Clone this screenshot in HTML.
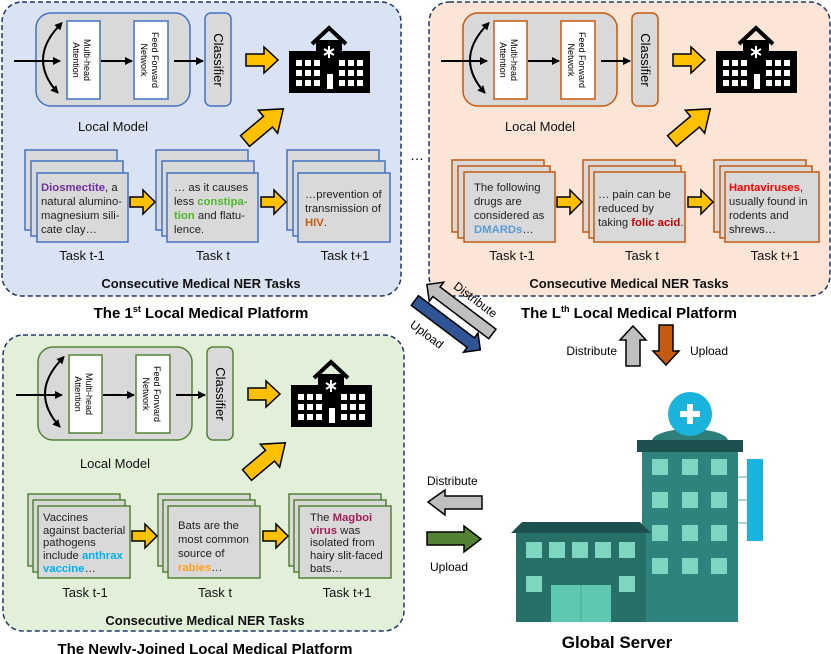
<!DOCTYPE html>
<html><head><meta charset="utf-8"><style>
html,body{margin:0;padding:0;background:#fff}
svg{display:block;font-family:"Liberation Sans",Arial,sans-serif}
.t{font-size:11.3px;fill:#222}
.lbl{font-size:13px;fill:#111}
.b{font-weight:bold}
</style></head><body>
<svg width="831" height="654" viewBox="0 0 831 654" xmlns="http://www.w3.org/2000/svg">
<defs>
<marker id="ah" markerWidth="8" markerHeight="8" refX="7" refY="4" orient="auto" markerUnits="userSpaceOnUse"><path d="M0,0 L8,4 L0,8 Z" fill="#000"/></marker>
<marker id="ahs" markerWidth="8" markerHeight="8" refX="1" refY="4" orient="auto-start-reverse" markerUnits="userSpaceOnUse"><path d="M0,0 L8,4 L0,8 Z" fill="#000"/></marker>
<g id="hosp">
<path d="M312,44 L329,28 L346,44" fill="none" stroke="#000" stroke-width="4"/>
<rect x="316" y="40" width="26" height="14" fill="#000"/>
<rect x="289" y="51" width="81" height="42" fill="#000"/>
<g fill="#fff">
<rect x="296" y="60" width="6" height="6"/><rect x="305" y="60" width="6" height="6"/><rect x="314" y="60" width="6" height="6"/>
<rect x="296" y="70" width="6" height="6"/><rect x="305" y="70" width="6" height="6"/><rect x="314" y="70" width="6" height="6"/>
<rect x="296" y="80" width="6" height="6"/><rect x="305" y="80" width="6" height="6"/><rect x="314" y="80" width="6" height="6"/>
<rect x="339" y="60" width="6" height="6"/><rect x="348" y="60" width="6" height="6"/><rect x="357" y="60" width="6" height="6"/>
<rect x="339" y="70" width="6" height="6"/><rect x="348" y="70" width="6" height="6"/><rect x="357" y="70" width="6" height="6"/>
<rect x="339" y="80" width="6" height="6"/><rect x="348" y="80" width="6" height="6"/><rect x="357" y="80" width="6" height="6"/>
<rect x="327" y="74" width="6" height="15"/>
</g>
<path d="M329,46 V58 M324,49 L334,55 M334,49 L324,55" stroke="#fff" stroke-width="2"/>
</g>
<path id="ya" d="M0,-6 L18,-6 L18,-13 L32,0 L18,13 L18,6 L0,6 Z" fill="#ffc000" stroke="#000" stroke-width="1.5"/>
<path id="yd" d="M0,-7 L30,-7 L30,-15 L50,0 L30,15 L30,7 L0,7 Z" fill="#ffc000" stroke="#000" stroke-width="1.5"/>
<path id="ys" d="M0,-5 L13,-5 L13,-12 L25,0 L13,12 L13,5 L0,5 Z" fill="#ffc000" stroke="#000" stroke-width="1.5"/>
<g id="arrs">
<line x1="14" y1="61" x2="60" y2="61" stroke="#000" stroke-width="2" marker-end="url(#ah)"/>
<path d="M58,27 Q28,60 58,93" fill="none" stroke="#000" stroke-width="2" marker-end="url(#ah)" marker-start="url(#ahs)"/>
<line x1="101" y1="61" x2="132" y2="61" stroke="#000" stroke-width="2" marker-end="url(#ah)"/>
<line x1="174" y1="61" x2="203" y2="61" stroke="#000" stroke-width="2" marker-end="url(#ah)"/>
<use href="#ya" transform="translate(246,60)"/>
<use href="#yd" transform="translate(245,141) rotate(-40)"/>
<use href="#ys" transform="translate(130,202)"/>
<use href="#ys" transform="translate(261,202)"/>
<use href="#hosp"/>
</g>
</defs>

<!-- PANEL 1 -->
<g>
<rect x="2" y="2" width="399" height="294" rx="20" fill="#dae3f3" stroke="#203864" stroke-width="1.5" stroke-dasharray="5,3"/>
<g stroke="#4472c4" stroke-width="1.5">
<rect x="36" y="13" width="154" height="93" rx="15" fill="#d9d9d9"/>
<rect x="67" y="21" width="33" height="78" fill="#fff"/>
<rect x="134" y="21" width="34" height="78" fill="#fff"/>
<rect x="205" y="13" width="26" height="93" rx="6" fill="#d9d9d9"/>
<rect x="25" y="150" width="92" height="80" fill="#d9d9d9"/><rect x="31" y="161" width="92" height="75" fill="#d9d9d9"/><rect x="37" y="173" width="91" height="69" fill="#d9d9d9"/>
<rect x="156" y="150" width="92" height="80" fill="#d9d9d9"/><rect x="162" y="161" width="92" height="75" fill="#d9d9d9"/><rect x="167" y="173" width="91" height="69" fill="#d9d9d9"/>
<rect x="287" y="150" width="92" height="80" fill="#d9d9d9"/><rect x="293" y="161" width="92" height="75" fill="#d9d9d9"/><rect x="298" y="173" width="92" height="69" fill="#d9d9d9"/>
</g>
<use href="#arrs"/>
<g font-size="9" text-anchor="middle" fill="#000">
<text transform="rotate(90 83 60)" x="83" y="59">Multi-head</text><text transform="rotate(90 83 60)" x="83" y="70">Attention</text>
<text transform="rotate(90 151 60)" x="151" y="59">Feed Forward</text><text transform="rotate(90 151 60)" x="151" y="70">Network</text>
<text transform="rotate(90 218 60)" x="218" y="64" font-size="13">Classifier</text>
</g>
<text class="lbl" x="113" y="131" text-anchor="middle">Local Model</text>
<text class="t"><tspan x="41" y="191"><tspan fill="#7030a0" class="b">Diosmectite</tspan>, a</tspan><tspan x="41" y="205">natural alumino-</tspan><tspan x="41" y="219">magnesium sili-</tspan><tspan x="41" y="233">cate clay…</tspan></text>
<text class="t"><tspan x="174" y="191">… as it causes</tspan><tspan x="174" y="205">less <tspan fill="#4eb82e" class="b">constipa-</tspan></tspan><tspan x="174" y="219"><tspan fill="#4eb82e" class="b">tion</tspan> and flatu-</tspan><tspan x="174" y="233">lence.</tspan></text>
<text class="t"><tspan x="305" y="198">…prevention of</tspan><tspan x="305" y="212">transmission of</tspan><tspan x="305" y="226"><tspan fill="#c55a11" class="b">HIV</tspan>.</tspan></text>
<text class="lbl" x="82" y="260" text-anchor="middle">Task t-1</text>
<text class="lbl" x="213" y="260" text-anchor="middle">Task t</text>
<text class="lbl" x="345" y="260" text-anchor="middle">Task t+1</text>
<text class="lbl b" x="201" y="288" text-anchor="middle">Consecutive Medical NER Tasks</text>
<text x="201" y="318" text-anchor="middle" font-size="15" font-weight="bold">The 1<tspan font-size="9" dy="-6">st</tspan><tspan dy="6"> Local Medical Platform</tspan></text>
</g>

<text x="410" y="160" font-size="14">…</text>

<!-- PANEL L -->
<g transform="translate(427,0)">
<rect x="2" y="2" width="401" height="294" rx="20" fill="#fbe5d6" stroke="#203864" stroke-width="1.5" stroke-dasharray="5,3"/>
<g stroke="#c55a11" stroke-width="1.5">
<rect x="36" y="13" width="154" height="93" rx="15" fill="#d9d9d9"/>
<rect x="67" y="21" width="33" height="78" fill="#fff"/>
<rect x="134" y="21" width="34" height="78" fill="#fff"/>
<rect x="205" y="13" width="26" height="93" rx="6" fill="#d9d9d9"/>
<rect x="25" y="160" width="92" height="72" fill="#d9d9d9"/><rect x="31" y="166" width="92" height="72" fill="#d9d9d9"/><rect x="37" y="172" width="91" height="70" fill="#d9d9d9"/>
<rect x="156" y="160" width="92" height="72" fill="#d9d9d9"/><rect x="162" y="166" width="92" height="72" fill="#d9d9d9"/><rect x="167" y="172" width="91" height="70" fill="#d9d9d9"/>
<rect x="287" y="160" width="92" height="72" fill="#d9d9d9"/><rect x="293" y="166" width="92" height="72" fill="#d9d9d9"/><rect x="298" y="172" width="94" height="70" fill="#d9d9d9"/>
</g>
<use href="#arrs"/>
<g font-size="9" text-anchor="middle" fill="#000">
<text transform="rotate(90 83 60)" x="83" y="59">Multi-head</text><text transform="rotate(90 83 60)" x="83" y="70">Attention</text>
<text transform="rotate(90 151 60)" x="151" y="59">Feed Forward</text><text transform="rotate(90 151 60)" x="151" y="70">Network</text>
<text transform="rotate(90 218 60)" x="218" y="64" font-size="13">Classifier</text>
</g>
<text class="lbl" x="113" y="131" text-anchor="middle">Local Model</text>
<text class="t"><tspan x="47" y="191">The following</tspan><tspan x="47" y="205">drugs are</tspan><tspan x="47" y="219">considered as</tspan><tspan x="47" y="233"><tspan fill="#5b9bd5" class="b">DMARDs</tspan>…</tspan></text>
<text class="t"><tspan x="171" y="198">… pain can be</tspan><tspan x="171" y="212">reduced by</tspan><tspan x="171" y="226">taking <tspan fill="#c00000" class="b">folic acid</tspan>.</tspan></text>
<text class="t"><tspan x="302" y="191"><tspan fill="#ff0000" class="b">Hantaviruses</tspan>,</tspan><tspan x="302" y="205">usually found in</tspan><tspan x="302" y="219">rodents and</tspan><tspan x="302" y="233">shrews…</tspan></text>
<text class="lbl" x="85" y="260" text-anchor="middle">Task t-1</text>
<text class="lbl" x="215" y="260" text-anchor="middle">Task t</text>
<text class="lbl" x="348" y="260" text-anchor="middle">Task t+1</text>
<text class="lbl b" x="202" y="288" text-anchor="middle">Consecutive Medical NER Tasks</text>
<text x="202" y="318" text-anchor="middle" font-size="15" font-weight="bold">The L<tspan font-size="9" dy="-6">th</tspan><tspan dy="6"> Local Medical Platform</tspan></text>
</g>

<!-- PANEL 3 -->
<g transform="translate(2,334)">
<rect x="1" y="1" width="401" height="296" rx="20" fill="#e2f0d9" stroke="#203864" stroke-width="1.5" stroke-dasharray="5,3"/>
<g stroke="#548235" stroke-width="1.5">
<rect x="36" y="13" width="154" height="93" rx="15" fill="#d9d9d9"/>
<rect x="67" y="21" width="33" height="78" fill="#fff"/>
<rect x="134" y="21" width="34" height="78" fill="#fff"/>
<rect x="205" y="13" width="26" height="93" rx="6" fill="#d9d9d9"/>
<rect x="26" y="160" width="92" height="72" fill="#d9d9d9"/><rect x="31" y="166" width="92" height="72" fill="#d9d9d9"/><rect x="36" y="172" width="92" height="72" fill="#d9d9d9"/>
<rect x="156" y="160" width="92" height="72" fill="#d9d9d9"/><rect x="161" y="166" width="92" height="72" fill="#d9d9d9"/><rect x="166" y="172" width="92" height="72" fill="#d9d9d9"/>
<rect x="287" y="160" width="92" height="72" fill="#d9d9d9"/><rect x="292" y="166" width="92" height="72" fill="#d9d9d9"/><rect x="297" y="172" width="92" height="72" fill="#d9d9d9"/>
</g>
<use href="#arrs"/>
<g font-size="9" text-anchor="middle" fill="#000">
<text transform="rotate(90 83 60)" x="83" y="59">Multi-head</text><text transform="rotate(90 83 60)" x="83" y="70">Attention</text>
<text transform="rotate(90 151 60)" x="151" y="59">Feed Forward</text><text transform="rotate(90 151 60)" x="151" y="70">Network</text>
<text transform="rotate(90 218 60)" x="218" y="64" font-size="13">Classifier</text>
</g>
<text class="lbl" x="113" y="134" text-anchor="middle">Local Model</text>
<text class="t"><tspan x="41" y="187">Vaccines</tspan><tspan x="41" y="200">against bacterial</tspan><tspan x="41" y="212">pathogens</tspan><tspan x="41" y="225">include <tspan fill="#00b0f0" class="b">anthrax</tspan></tspan><tspan x="41" y="238"><tspan fill="#00b0f0" class="b">vaccine</tspan>…</tspan></text>
<text class="t"><tspan x="176" y="195">Bats are the</tspan><tspan x="176" y="209">most common</tspan><tspan x="176" y="223">source of</tspan><tspan x="176" y="237"><tspan fill="#ffa020" class="b">rabies</tspan>…</tspan></text>
<text class="t"><tspan x="308" y="187">The <tspan fill="#a0205a" class="b">Magboi</tspan></tspan><tspan x="308" y="200"><tspan fill="#a0205a" class="b">virus</tspan> was</tspan><tspan x="308" y="212">isolated from</tspan><tspan x="308" y="225">hairy slit-faced</tspan><tspan x="308" y="238">bats…</tspan></text>
<text class="lbl" x="83" y="263" text-anchor="middle">Task t-1</text>
<text class="lbl" x="213" y="263" text-anchor="middle">Task t</text>
<text class="lbl" x="345" y="263" text-anchor="middle">Task t+1</text>
<text class="lbl b" x="203" y="291" text-anchor="middle">Consecutive Medical NER Tasks</text>
<text x="203" y="320" text-anchor="middle" font-size="15" font-weight="bold">The Newly-Joined Local Medical Platform</text>
</g>

<!-- diagonal arrows -->
<g transform="translate(448,323) rotate(37)">
<path d="M-40,-18 L-28,-30 L-28,-24 L42,-24 L42,-12 L-28,-12 L-28,-6 Z" fill="#bfbfbf" stroke="#000" stroke-width="1.5"/>
<path d="M42,2 L30,-10 L30,-4 L-40,-4 L-40,8 L30,8 L30,14 Z" fill="#2f5597" stroke="#000" stroke-width="1.5"/>
<text x="8" y="-31" font-size="12" text-anchor="middle">Distribute</text>
<text x="-10" y="26" font-size="12" text-anchor="middle">Upload</text>
</g>

<!-- vertical arrows -->
<path d="M626,366 L626,340 L620,340 L633,326 L646,340 L640,340 L640,366 Z" fill="#bfbfbf" stroke="#000" stroke-width="1.5"/>
<path d="M659,325 L659,351 L653,351 L666,365 L679,351 L673,351 L673,325 Z" fill="#c55a11" stroke="#000" stroke-width="1.5"/>
<text x="617" y="355" font-size="12" text-anchor="end">Distribute</text>
<text x="690" y="355" font-size="12">Upload</text>

<!-- horizontal arrows -->
<text x="427" y="485" font-size="12">Distribute</text>
<path d="M482,496 L445,496 L445,490 L428,502 L445,515 L445,509 L482,509 Z" fill="#bfbfbf" stroke="#000" stroke-width="1.5"/>
<path d="M427,532 L464,532 L464,526 L481,539 L464,552 L464,545 L427,545 Z" fill="#548235" stroke="#000" stroke-width="1.5"/>
<text x="430" y="571" font-size="12">Upload</text>

<!-- global server -->
<ellipse cx="690" cy="441" rx="38" ry="12" fill="#2e7f7a"/>
<circle cx="690" cy="414" r="22" fill="#1ab3dc"/>
<path d="M690,404 V424 M680,414 H700" stroke="#fff" stroke-width="6"/>
<rect x="637" y="440" width="106" height="12" fill="#1e5050"/>
<rect x="642" y="452" width="96" height="170" fill="#2e847c"/>
<rect x="747" y="459" width="16" height="82" fill="#1ab3dc"/>
<g stroke="#5fa8a0" stroke-width="1"><line x1="738" y1="477" x2="747" y2="477"/><line x1="738" y1="500" x2="747" y2="500"/><line x1="738" y1="523" x2="747" y2="523"/></g>
<g fill="#7dd6c0">
<rect x="652" y="459" width="16" height="16"/><rect x="682" y="459" width="16" height="16"/><rect x="711" y="459" width="16" height="16"/>
<rect x="652" y="492" width="16" height="16"/><rect x="682" y="492" width="16" height="16"/><rect x="711" y="492" width="16" height="16"/>
<rect x="652" y="525" width="16" height="16"/><rect x="682" y="525" width="16" height="16"/><rect x="711" y="525" width="16" height="16"/>
<rect x="652" y="558" width="16" height="16"/><rect x="682" y="558" width="16" height="16"/><rect x="711" y="558" width="16" height="16"/>
</g>
<path d="M511,533 L522,522 L640,522 L651,533 Z" fill="#1e5050"/>
<rect x="516" y="533" width="130" height="89" fill="#277068"/>
<g fill="#7dd6c0">
<rect x="526" y="542" width="16" height="16"/><rect x="549" y="542" width="16" height="16"/><rect x="572" y="542" width="16" height="16"/><rect x="595" y="542" width="16" height="16"/><rect x="619" y="542" width="16" height="16"/>
<rect x="526" y="576" width="16" height="16"/><rect x="619" y="576" width="16" height="16"/>
</g>
<rect x="551" y="585" width="60" height="37" fill="#5ec8b0"/>
<line x1="581" y1="585" x2="581" y2="622" stroke="#4aa896"/>
<text x="617" y="648" font-size="17" font-weight="bold" text-anchor="middle">Global Server</text>
</svg>
</body></html>
